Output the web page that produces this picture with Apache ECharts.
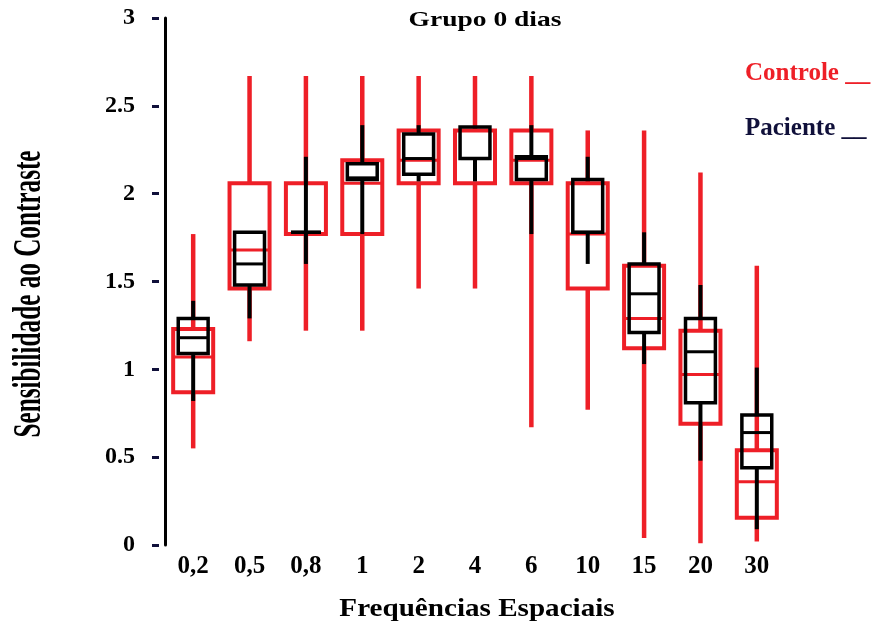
<!DOCTYPE html>
<html>
<head>
<meta charset="utf-8">
<script src="https://cdn.jsdelivr.net/npm/echarts@6/dist/echarts.min.js"></script>
<style>html,body{margin:0;padding:0;background:#fff;}#c{width:878px;height:626px;}</style>
</head>
<body>
<div id="c"></div>
<script>
const categories = ['0,2','0,5','0,8','1','2','4','6','10','15','20','30'];
const yTickLabels = ['0','0.5','1','1.5','2','2.5','3'];

const controleMin = [0.55, 1.16, 1.22, 1.22, 1.46, 1.46, 0.67, 0.77, 0.04, 0.01, 0.02];
const controleQ1  = [0.87, 1.46, 1.77, 1.77, 2.06, 2.06, 2.06, 1.46, 1.12, 0.69, 0.155];
const controleMed = [1.07, 1.68, 1.77, 2.06, 2.19, 2.36, 2.19, 1.77, 1.29, 0.97, 0.36];
const controleQ3  = [1.23, 2.06, 2.06, 2.19, 2.36, 2.36, 2.36, 2.06, 1.59, 1.22, 0.54];
const controleMax = [1.77, 2.67, 2.67, 2.67, 2.67, 2.67, 2.67, 2.36, 2.36, 2.12, 1.59];

const pacienteMin = [0.82, 1.29, 1.60, 1.77, 2.07, 2.07, 1.77, 1.60, 1.03, 0.48, 0.09];
const pacienteQ1  = [1.09, 1.48, 1.78, 2.08, 2.11, 2.20, 2.08, 1.78, 1.21, 0.81, 0.44];
const pacienteMed = [1.18, 1.60, 1.78, 2.09, 2.20, 2.20, 2.20, 1.78, 1.43, 1.10, 0.64];
const pacienteQ3  = [1.29, 1.78, 1.78, 2.17, 2.34, 2.38, 2.21, 2.08, 1.60, 1.29, 0.74];
const pacienteMax = [1.39, 1.78, 2.21, 2.39, 2.39, 2.38, 2.39, 2.21, 1.78, 1.48, 1.01];

const RED = '#ee1f27';
const BLACK = '#000000';
const NAVY = '#10103a';
const FONT = "'Liberation Serif', 'Times New Roman', serif";

function buildData(mn, q1, md, q3, mx) {
  return categories.map((c, i) => [i, mn[i], q1[i], md[i], q3[i], mx[i]]);
}

function makeRender(color, widthRatio, boxLW, whiskLW, medLW) {
  return function (params, api) {
    const x = api.value(0);
    const pMin = api.coord([x, api.value(1)]);
    const pQ1 = api.coord([x, api.value(2)]);
    const pMed = api.coord([x, api.value(3)]);
    const pQ3 = api.coord([x, api.value(4)]);
    const pMax = api.coord([x, api.value(5)]);
    const bw = api.size([1, 0])[0] * widthRatio;
    const cx = pMin[0];
    const left = cx - bw / 2;
    return {
      type: 'group',
      children: [
        { type: 'line', shape: { x1: cx, y1: pMax[1], x2: cx, y2: pQ3[1] }, style: { stroke: color, lineWidth: whiskLW } },
        { type: 'line', shape: { x1: cx, y1: pQ1[1], x2: cx, y2: pMin[1] }, style: { stroke: color, lineWidth: whiskLW } },
        { type: 'rect', shape: { x: left, y: pQ3[1], width: bw, height: pQ1[1] - pQ3[1] }, style: { fill: 'none', stroke: color, lineWidth: boxLW } },
        { type: 'line', shape: { x1: left, y1: pMed[1], x2: left + bw, y2: pMed[1] }, style: { stroke: color, lineWidth: medLW } }
      ]
    };
  };
}

const chart = echarts.init(document.getElementById('c'), null, { renderer: 'canvas' });

const option = {
  animation: false,
  backgroundColor: '#ffffff',
  grid: { left: 165, top: 18, width: 620, height: 527 },
  xAxis: {
    type: 'category',
    data: categories,
    boundaryGap: true,
    axisLine: { show: false },
    axisTick: { show: false },
    splitLine: { show: false },
    axisLabel: {
      interval: 0, margin: 9, color: '#000',
      fontSize: 25, fontWeight: 'bold', fontFamily: FONT
    }
  },
  yAxis: [
    {
      type: 'value', min: 0, max: 3, interval: 0.5,
      axisLine: { show: true, lineStyle: { color: '#000', width: 3 } },
      axisTick: { show: false },
      axisLabel: { show: false },
      splitLine: { show: false }
    },
    {
      type: 'value', position: 'left', offset: 6, min: 0, max: 3, interval: 0.5,
      axisLine: { show: false },
      axisTick: { show: true, length: 7, lineStyle: { color: NAVY, width: 3 } },
      splitLine: { show: false },
      axisLabel: {
        margin: 24, color: '#000',
        fontSize: 24, fontWeight: 'bold', fontFamily: FONT,
        formatter: function (v) { return yTickLabels[Math.round(v / 0.5)]; }
      }
    }
  ],
  graphic: [
    {
      type: 'text', x: 485, y: 20, scaleX: 1.25,
      style: { text: 'Grupo 0 dias', fill: '#000', font: "bold 22px " + FONT,
        textAlign: 'center', align: 'center', textVerticalAlign: 'middle', verticalAlign: 'middle' }
    },
    {
      type: 'text', x: 745, y: 74,
      style: { text: 'Controle __', fill: RED, font: "bold 25px " + FONT,
        textAlign: 'left', align: 'left', textVerticalAlign: 'middle', verticalAlign: 'middle' }
    },
    {
      type: 'text', x: 745, y: 129,
      style: { text: 'Paciente __', fill: NAVY, font: "bold 25px " + FONT,
        textAlign: 'left', align: 'left', textVerticalAlign: 'middle', verticalAlign: 'middle' }
    },
    {
      type: 'text', x: 477, y: 609, scaleX: 1.12,
      style: { text: 'Frequências Espaciais', fill: '#000', font: "bold 26px " + FONT,
        textAlign: 'center', align: 'center', textVerticalAlign: 'middle', verticalAlign: 'middle' }
    },
    {
      type: 'text', x: 30, y: 294, rotation: Math.PI / 2, scaleX: 0.63,
      style: { text: 'Sensibilidade ao Contraste', fill: '#000', font: "bold 40px " + FONT,
        textAlign: 'center', align: 'center', textVerticalAlign: 'middle', verticalAlign: 'middle' }
    }
  ],
  series: [
    {
      name: 'Controle',
      type: 'custom',
      xAxisIndex: 0, yAxisIndex: 0,
      renderItem: makeRender(RED, 0.71, 4, 4.5, 3),
      encode: { x: 0, y: [1, 2, 3, 4, 5] },
      data: buildData(controleMin, controleQ1, controleMed, controleQ3, controleMax),
      z: 2
    },
    {
      name: 'Paciente',
      type: 'custom',
      xAxisIndex: 0, yAxisIndex: 0,
      renderItem: makeRender(BLACK, 0.53, 3.5, 4, 3),
      encode: { x: 0, y: [1, 2, 3, 4, 5] },
      data: buildData(pacienteMin, pacienteQ1, pacienteMed, pacienteQ3, pacienteMax),
      z: 3
    }
  ]
};

chart.setOption(option);
</script>
</body>
</html>
